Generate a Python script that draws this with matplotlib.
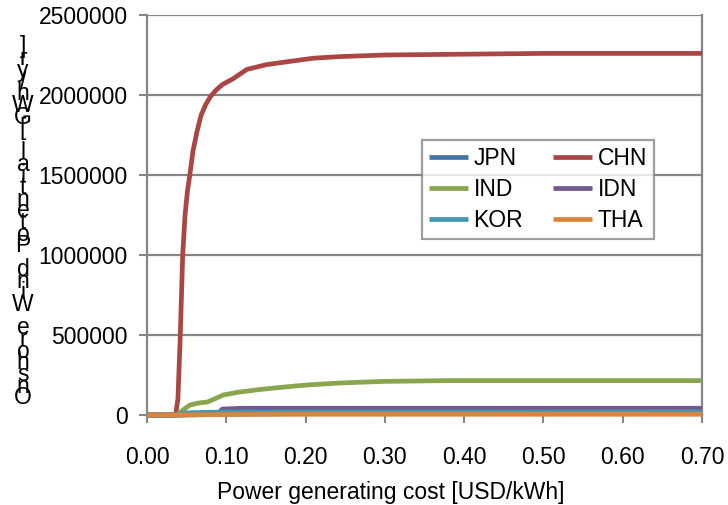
import matplotlib
matplotlib.use("Agg")
import matplotlib.pyplot as plt

plt.rcParams['font.family'] = ['Liberation Sans', 'DejaVu Sans']

# supply curves: cost [USD/kWh] vs cumulative potential [GWh/yr]
jpn_x = [0.0, 0.050, 0.100, 0.200, 0.700]
jpn_y = [0, 0, 5000, 10000, 12000]

chn_x = [0.0, 0.036, 0.039, 0.042, 0.045, 0.048, 0.051, 0.054, 0.058, 0.063, 0.068, 0.074,
         0.080, 0.087, 0.095, 0.108, 0.126, 0.151, 0.180, 0.210, 0.243, 0.300, 0.400,
         0.500, 0.700]
chn_y = [0, 0, 100000, 500000, 1000000, 1250000, 1400000, 1500000, 1650000, 1770000,
         1870000, 1940000, 1990000, 2030000, 2065000, 2100000, 2160000, 2190000, 2210000,
         2230000, 2240000, 2250000, 2255000, 2260000, 2260000]

ind_x = [0.0, 0.038, 0.045, 0.054, 0.065, 0.076, 0.085, 0.096, 0.117, 0.140, 0.159,
         0.180, 0.200, 0.243, 0.298, 0.380, 0.500, 0.700]
ind_y = [0, 0, 30000, 62000, 75000, 81000, 100000, 125000, 144000, 158000, 168000,
         178000, 187000, 200000, 210000, 215000, 215000, 215000]

idn_x = [0.0, 0.045, 0.060, 0.090, 0.095, 0.120, 0.700]
idn_y = [0, 0, 8000, 12000, 37000, 42000, 42000]

kor_x = [0.0, 0.038, 0.045, 0.060, 0.090, 0.700]
kor_y = [0, 0, 12000, 15000, 18000, 20000]

tha_x = [0.0, 0.050, 0.100, 0.200, 0.700]
tha_y = [0, 1000, 3000, 5000, 5000]

series = [
    ('JPN', jpn_x, jpn_y, '#4572A7'),
    ('CHN', chn_x, chn_y, '#AA4643'),
    ('IND', ind_x, ind_y, '#89A54E'),
    ('IDN', idn_x, idn_y, '#71588F'),
    ('KOR', kor_x, kor_y, '#4198AF'),
    ('THA', tha_x, tha_y, '#DB843D'),
]

x_ticks = [0.0, 0.1, 0.2, 0.3, 0.4, 0.5, 0.6, 0.7]
x_labels = ['0.00', '0.10', '0.20', '0.30', '0.40', '0.50', '0.60', '0.70']
y_ticks = [0, 500000, 1000000, 1500000, 2000000, 2500000]
y_labels = ['0', '500000', '1000000', '1500000', '2000000', '2500000']

ylabel = 'Onshore Wind Potential [GWh/yr]'
xlabel = 'Power generating cost [USD/kWh]'

W, H = 728, 505
fs = 16.5
fig = plt.figure(figsize=(W / 100, H / 100), dpi=100)
ax = fig.add_axes([147 / W, 1 - 415 / H, 555 / W, 400 / H])

grey = '#868686'
lines = {}
for name, xs, ys, c in series:
    lines[name], = ax.plot(xs, ys, color=c, lw=3.4, solid_capstyle='butt',
                           clip_on=False, zorder=3)

ax.set_xlim(0, 0.7)
ax.set_ylim(0, 2500000)
ax.set_xticks(x_ticks)
ax.set_xticklabels(x_labels)
ax.set_yticks(y_ticks)
ax.set_yticklabels(y_labels)
ax.tick_params(axis='both', labelsize=fs, color=grey, width=1.5, length=6)
ax.tick_params(axis='x', pad=16)
ax.tick_params(axis='y', pad=8)
ax.grid(axis='y', color=grey, lw=1.6)
ax.set_axisbelow(True)
for sp in ax.spines.values():
    sp.set_color(grey)
    sp.set_linewidth(1.6)
ax.spines['top'].set_visible(False)

# legend filled column-wise in matplotlib, so order for row layout
order = ['JPN', 'IND', 'KOR', 'CHN', 'IDN', 'THA']
leg = ax.legend([lines[n] for n in order], order, ncol=2, loc='upper left',
                bbox_to_anchor=((422 - 147) / 555, (415 - 140) / 400),
                fontsize=fs, frameon=True, fancybox=False, handlelength=1.7,
                handletextpad=0.25, columnspacing=1.3, labelspacing=0.35,
                borderpad=0.3, borderaxespad=0)
leg.get_frame().set_edgecolor(grey)
leg.get_frame().set_linewidth(1.6)

# stacked vertical y label, bottom character first
chars = list(ylabel)
top_px, bot_px = 47, 398
step = (bot_px - top_px) / (len(chars) - 1)
for i, ch in enumerate(chars):
    ypx = bot_px - i * step
    fig.text(23 / W, 1 - ypx / H, ch, fontsize=fs, ha='center', va='center')

fig.text(391 / W, 1 - 492 / H, xlabel, fontsize=fs, ha='center', va='center')

fig.savefig('out.png', dpi=100)
